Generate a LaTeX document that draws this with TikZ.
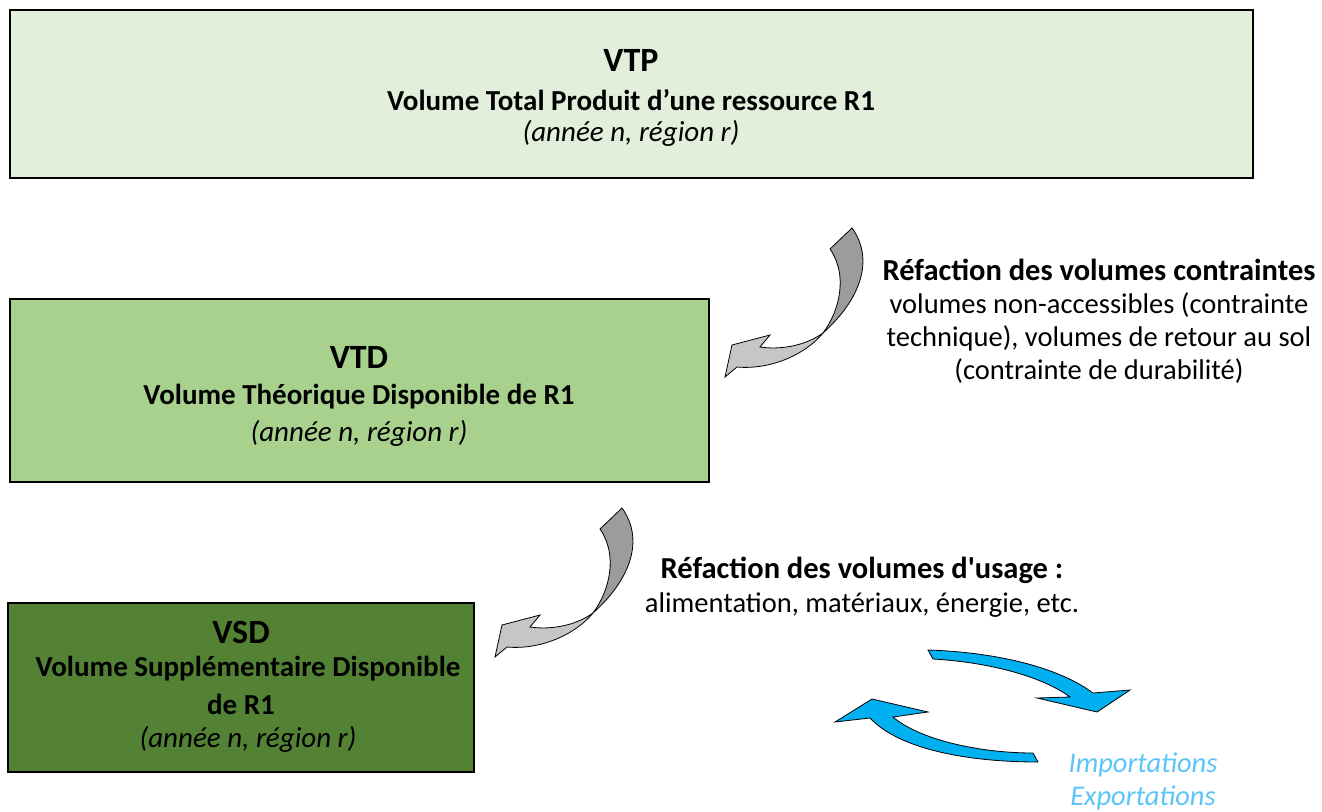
\documentclass[tikz,border=0pt]{standalone}
\usepackage{fontspec}
\setmainfont{Carlito}
\usetikzlibrary{positioning}

\definecolor{vtpgreen}{HTML}{E2EFDA}
\definecolor{vtdgreen}{HTML}{A9D18E}
\definecolor{vsdgreen}{HTML}{548235}
\definecolor{darkgrey}{HTML}{9C9C9C}
\definecolor{lightgrey}{HTML}{C6C6C6}
\definecolor{tradeblue}{HTML}{00B0F0}
\definecolor{tradetext}{HTML}{5BC4F8}

\tikzset{
  box/.style={draw=black, line width=1.5pt, rectangle, inner sep=0pt},
  head/.style={font=\fontsize{34}{38}\selectfont\bfseries},
  title/.style={font=\fontsize{29}{33}\selectfont\bfseries},
  when/.style={font=\fontsize{29}{33}\selectfont\itshape},
  note/.style={align=center, font=\fontsize{28.5}{33}\selectfont},
  twistarrow/.pic={
    % back side of the band
    \draw[fill=darkgrey, line width=0.8pt] (110,29) -- (132,8)
      .. controls (155,40) and (140,80) .. (103,113)
      .. controls (120,90) and (128,55) .. (110,29) -- cycle;
    % front side with the head
    \draw[fill=lightgrey, line width=0.8pt] (103,113)
      .. controls (85,135) and (50,150) .. (17,147) -- (5,157) -- (12,125)
      -- (50,115) -- (40,127)
      .. controls (60,130) and (85,126) .. (103,113) -- cycle;
  }
}

\begin{document}
\begin{tikzpicture}[x=1pt, y=-1pt]
  \useasboundingbox (0,0) rectangle (1322,811);

  % the three volumes
  \node[box, fill=vtpgreen, minimum width=1243pt, minimum height=168pt] (vtp) at (631.5,94) {};
  \node[head] (vtp_head) at (631,60) {VTP};
  \node[title] (vtp_name) at (631,100) {Volume Total Produit d’une ressource R1};
  \node[when] (vtp_when) at (631,133) {(année n, région r)};

  \node[box, fill=vtdgreen, minimum width=699pt, minimum height=183pt] (vtd) at (359.5,390.5) {};
  \node[head] (vtd_head) at (359,357) {VTD};
  \node[title] (vtd_name) at (359,397) {Volume Théorique Disponible de R1};
  \node[when] (vtd_when) at (359,433) {(année n, région r)};

  \node[box, fill=vsdgreen, minimum width=466pt, minimum height=169pt] (vsd) at (241,687.5) {};
  \node[head] (vsd_head) at (241,632) {VSD};
  \node[title] (vsd_name) at (248,669) {Volume Supplémentaire Disponible};
  \node[title] (vsd_name2) at (241,704) {de R1};
  \node[when] (vsd_when) at (248,739) {(année n, région r)};

  % reductions
  \pic at (720,220) {twistarrow};
  \pic at (490,500) {twistarrow};

  \node[title, font=\fontsize{30.5}{34}\selectfont\bfseries] (contr_head) at (1099,270) {Réfaction des volumes contraintes};
  \node[note] (contr_text) at (1099,338) {volumes non-accessibles (contrainte\\technique), volumes de retour au sol\\(contrainte de durabilité)};

  \node[title, font=\fontsize{30.5}{34}\selectfont\bfseries] (usage_head) at (862,570) {Réfaction des volumes d\textquotesingle usage :};
  \node[note] (usage_text) at (862,605) {alimentation, matériaux, énergie, etc.};

  % trade
  \draw[fill=tradeblue, line width=0.8pt, shift={(820,640)}] (108,10)
    .. controls (170,12) and (235,25) .. (273,53) -- (310,50) -- (277,72)
    -- (217,58) -- (250,57)
    .. controls (220,35) and (165,22) .. (113,19) -- cycle;
  \draw[fill=tradeblue, line width=0.8pt, shift={(820,640)}] (213,113)
    .. controls (160,113) and (100,100) .. (73,77) -- (108,72) -- (52,59)
    -- (15,82) -- (50,78)
    .. controls (80,110) and (150,122) .. (218,122) -- cycle;
  \node[note, text=tradetext, font=\fontsize{28.5}{33}\selectfont\itshape] (trade) at (1143,781.5) {Importations\\Exportations};
\end{tikzpicture}
\end{document}
